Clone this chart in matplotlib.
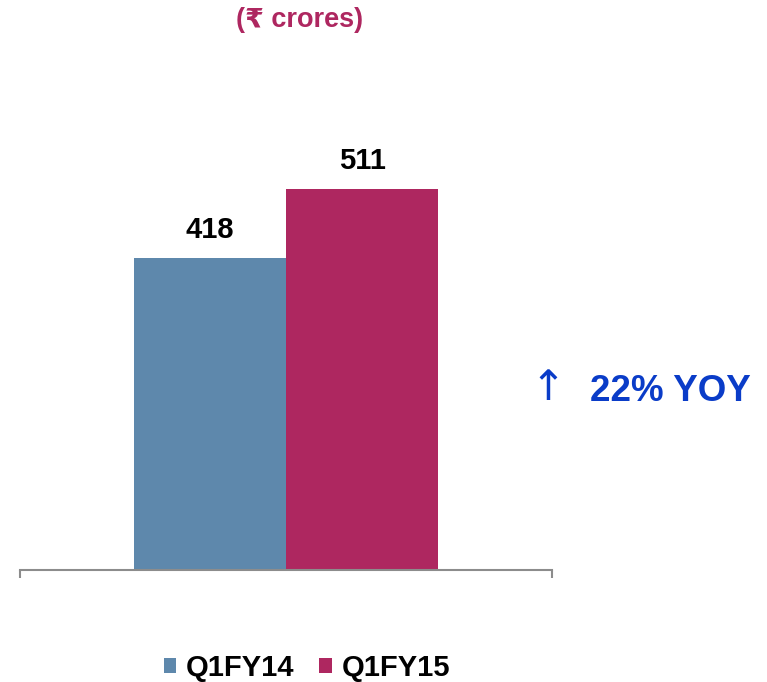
import matplotlib
matplotlib.use("Agg")
import matplotlib.pyplot as plt
from matplotlib.patches import Patch

plt.rcParams['font.family'] = ['Liberation Sans', 'DejaVu Sans']

categories = ["Q1FY14", "Q1FY15"]
values = [418, 511]
colors = ["#5E88AC", "#AE2760"]
title = "(₹ crores)"
growth = "22% YOY"

W, H = 767, 682
fig = plt.figure(figsize=(W / 100, H / 100), dpi=100)

ax_left, ax_right, ax_bottom = 20, 552, 570
ymax = 600
px_per_unit = 312 / 418
ax_h = ymax * px_per_unit
ax = fig.add_axes([ax_left / W, 1 - ax_bottom / H, (ax_right - ax_left) / W, ax_h / H])
ax.set_xlim(0, 3.5)
ax.set_ylim(0, ymax)

xs = [1.25, 2.25]
for x, v, c in zip(xs, values, colors):
    ax.bar(x, v, width=1.0, color=c, zorder=2)
    ax.annotate(str(v), (x, v), xytext=(0, 10), textcoords='offset points',
                ha='center', va='bottom', fontsize=21, fontweight='bold', color='black')

for s in ['top', 'right', 'left']:
    ax.spines[s].set_visible(False)
ax.spines['bottom'].set_color('#8C8C8C')
ax.spines['bottom'].set_linewidth(1.5)
ax.set_yticks([])
ax.set_xticks([0, 3.5])
ax.set_xticklabels([])
ax.tick_params(axis='x', length=6, width=1.5, color='#8C8C8C', direction='out')

fig.text(300 / W, 1 - 20 / H, title, ha='center', va='center', fontsize=19.5,
         fontweight='bold', color='#AE2760')

fig.text(548 / W, 1 - 388 / H, "↑", ha='center', va='center', fontsize=30,
         color='#0A3CC8', family=['DejaVu Sans'])
fig.text(590 / W, 1 - 391 / H, growth, ha='left', va='center', fontsize=26.5,
         fontweight='bold', color='#0A3CC8')

handles = [Patch(facecolor=c, edgecolor='none', label=l) for c, l in zip(colors, categories)]
fig.legend(handles=handles, loc='center', bbox_to_anchor=(307 / W, 1 - 668 / H), ncol=2,
           frameon=False, handlelength=0.42, handleheight=0.42, handletextpad=0.33,
           columnspacing=0.85, prop={'weight': 'bold', 'size': 21})

fig.savefig("out.png", dpi=100)
